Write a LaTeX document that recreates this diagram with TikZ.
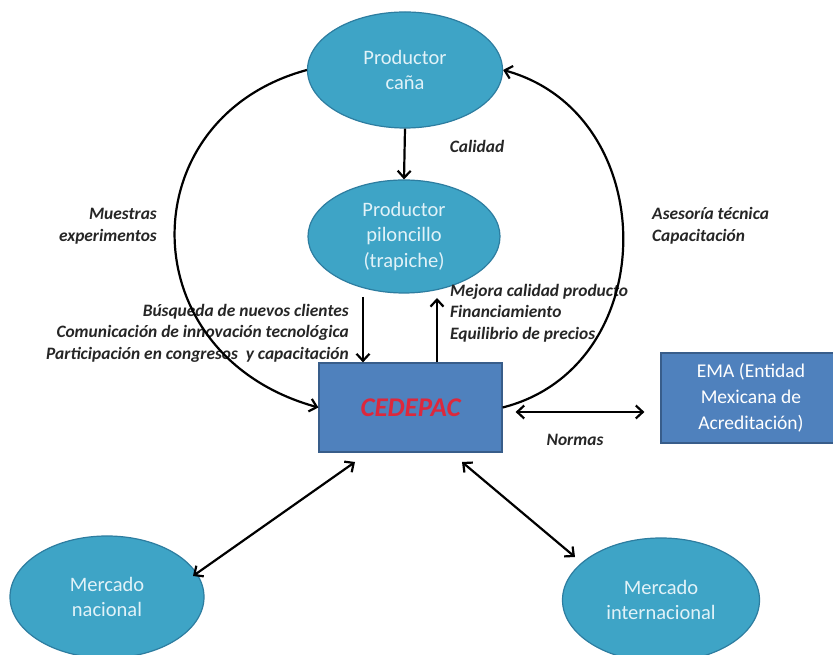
\documentclass[tikz,border=0pt]{standalone}
\usepackage{fontspec}
\setmainfont{Carlito}
\usetikzlibrary{arrows.meta,shapes.geometric}
\definecolor{ellfill}{RGB}{62,164,198}
\definecolor{elldraw}{RGB}{45,125,160}
\definecolor{recfill}{RGB}{79,129,189}
\definecolor{recdraw}{RGB}{56,93,138}
\definecolor{elltext}{RGB}{225,242,248}
\definecolor{cedred}{RGB}{220,40,60}
\tikzset{
  ell/.style={ellipse, fill=ellfill, draw=elldraw, line width=1.2pt, text=elltext, align=center,
    font=\fontsize{20.5}{25.5}\selectfont, inner sep=0pt},
  rec/.style={rectangle, fill=recfill, draw=recdraw, line width=1.2pt, align=center, inner sep=0pt},
  lbl/.style={font=\fontsize{17.4}{21.5}\selectfont\bfseries\itshape, text=black!85, inner sep=0pt},
  tip/.style={},
  arr/.style={line width=2.2pt, -{Straight Barb[length=7pt,width=13pt,line width=2.2pt]}},
  darr/.style={line width=2.2pt, {Straight Barb[length=7pt,width=13pt,line width=2.2pt]}-{Straight Barb[length=7pt,width=13pt,line width=2.2pt]}}
}
\begin{document}
\begin{tikzpicture}[x=1pt,y=1pt]
\useasboundingbox (0,0) rectangle (833,655);
\fill[white] (0,0) rectangle (833,655);
\begin{scope}
\clip (0,0) rectangle (833,655);
\node[ell, minimum width=195pt, minimum height=116pt] (cana) at (405,585) {Productor\\caña};
\node[ell, minimum width=192pt, minimum height=113pt] (pil) at (404,418.5) {Productor\\piloncillo\\(trapiche)};
\node[rec, minimum width=183pt, minimum height=89pt, font=\fontsize{27}{30}\selectfont\bfseries\itshape, text=cedred] (ced) at (410.5,247.5) {CEDEPAC};
\node[rec, minimum width=180pt, minimum height=90pt, font=\fontsize{19.5}{26}\selectfont, text=white] (ema) at (751,257) {EMA (Entidad\\Mexicana de\\Acreditación)};
\node[ell, minimum width=194pt, minimum height=122pt] (nac) at (107,58) {Mercado\\nacional};
\node[ell, minimum width=197pt, minimum height=124pt] (int) at (661,55) {Mercado\\internacional};
\end{scope}

\node[lbl] (calidad) at (477,509) {Calidad};
\node[lbl, anchor=east, align=right] (muestras) at (157,429) {Muestras\\experimentos};
\node[lbl, anchor=west, align=left] (asesoria) at (652,429) {Asesoría técnica\\Capacitación};
\node[lbl, anchor=east, align=right] (busq) at (349,322) {Búsqueda de nuevos clientes\\Comunicación de innovación tecnológica\\Participación en congresos \ y capacitación};
\node[lbl, anchor=west, align=left] (mejora) at (450,342) {Mejora calidad producto\\Financiamiento\\Equilibrio de precios};
\node[lbl] (normas) at (575,215) {Normas};

\draw[arr] (cana.south) -- (pil.north);
\coordinate (d1) at (363,358);
\coordinate (u1) at (437,357);
\draw[arr] (d1) -- (d1 |- ced.north);
\draw[arr] (u1 |- ced.north) -- (u1);
\draw[arr] (cana.west) .. controls (129,537) and (129,300) .. (ced.west);
\draw[arr] (ced.east) .. controls (663,288) and (663,541) .. (cana.east);
\draw[darr, shorten <=13pt, shorten >=16pt] ([yshift=-4.5pt]ced.east) -- ([yshift=-4.5pt]ced.east -| ema.west);
\coordinate (bl1) at (355,193);
\coordinate (bl2) at (193,79);
\coordinate (br1) at (462,193);
\coordinate (br2) at (575,98);
\draw[darr] (bl1) -- (bl2);
\draw[darr] (br1) -- (br2);
\end{tikzpicture}
\end{document}
